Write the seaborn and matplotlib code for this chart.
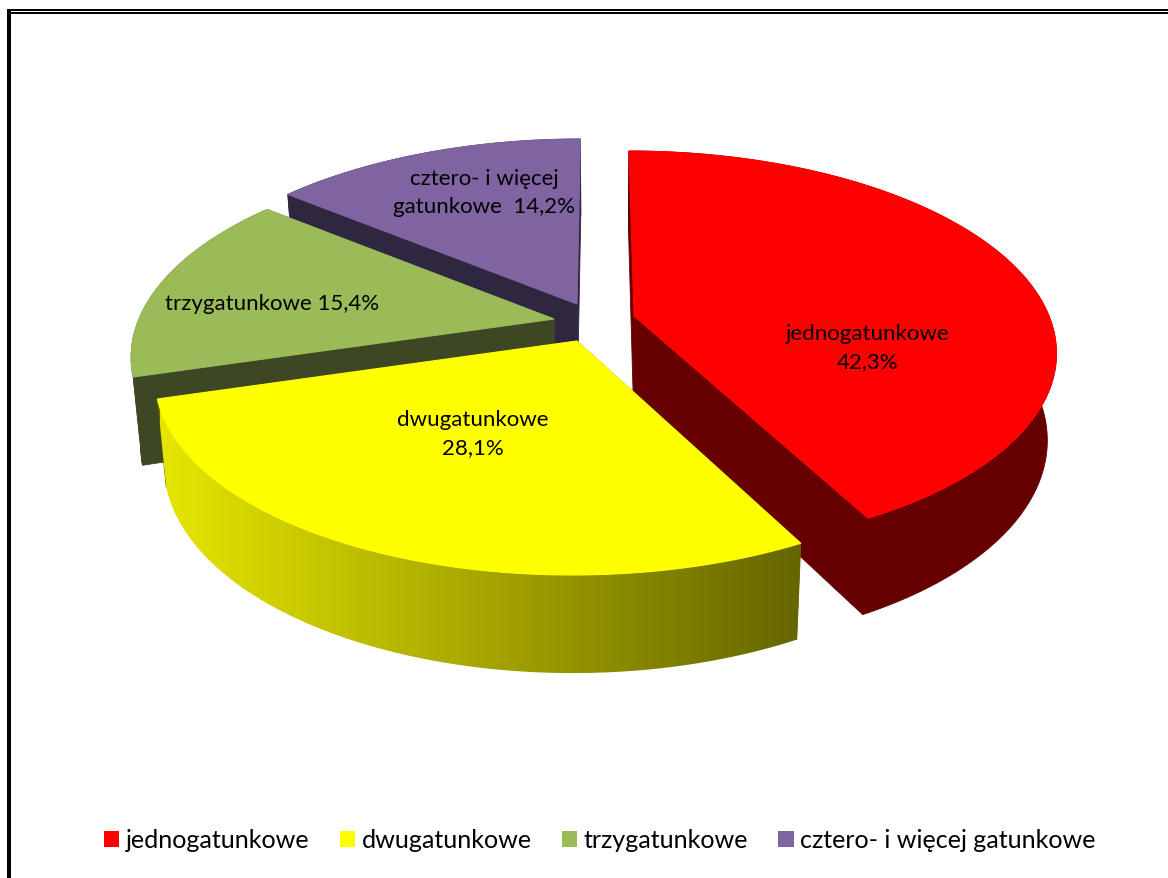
import numpy as np
import matplotlib
matplotlib.use("Agg")
import matplotlib.pyplot as plt
from matplotlib.patches import Patch, Rectangle, Polygon
from matplotlib.colors import LinearSegmentedColormap
import seaborn as sns

categories = ["jednogatunkowe", "dwugatunkowe", "trzygatunkowe", "cztero- i więcej gatunkowe"]
shares = [42.3, 28.1, 15.4, 14.2]
slice_labels = ["jednogatunkowe\n42,3%", "dwugatunkowe\n28,1%", "trzygatunkowe 15,4%", "cztero- i więcej\ngatunkowe  14,2%"]
top_colors = ["#ff0000", "#ffff00", "#9bbb59", "#8064a2"]
wall_colors = ["#660000", "#666600", "#3e4723", "#2f2640"]

sns.set_theme(style="white")
plt.rcParams["font.family"] = ["Lato", "DejaVu Sans"]

# view geometry (px on a 1168x879 canvas)
camera_x = 600.0
radius = 415.0
depth_radius = 193.5
persp = 0.173
thick = 85.0
base_scale = 0.98
apexes = {0: (634, 317), 1: (577, 342), 2: (554, 320), 3: (577, 305)}
label_pos = [(868, 348), (473, 434), (272, 304), (484, 193)]
draw_order = [3, 2, 0, 1]


def project(i, t, r=1.0, base=False):
    ax_, ay_ = apexes[i]
    s = r * np.sin(t)
    den = 1 + persp * s
    k = base_scale if base else 1.0
    x = camera_x + k * (ax_ - camera_x + radius * r * np.cos(t)) / den
    y = ay_ + (-k * depth_radius * s + (thick if base else 0)) / den
    return x, y


fig = plt.figure(figsize=(11.68, 8.79), dpi=100)
ax = fig.add_axes([0, 0, 1, 1])

edges = np.deg2rad(90 - np.cumsum([0] + shares) * 3.6)
yellow_side = LinearSegmentedColormap.from_list("side", ["#e6e600", "#666600"])

for n, i in enumerate(draw_order):
    t0, t1 = edges[i], edges[i + 1]
    ts = np.linspace(t0, t1, 240)
    top_x, top_y = project(i, ts)
    bot_x, bot_y = project(i, ts, base=True)
    apx, apy = project(i, 0.0, r=0.0)
    abx, aby = project(i, 0.0, r=0.0, base=True)
    wall = wall_colors[i]
    # radial cut walls
    for j in (0, -1):
        ax.fill([apx, top_x[j], bot_x[j], abx], [apy, top_y[j], bot_y[j], aby],
                facecolor=wall, edgecolor=wall, lw=0.6, zorder=1 + n * 3)
    # outer rim
    rim_xy = np.c_[np.r_[top_x, bot_x[::-1]], np.r_[top_y, bot_y[::-1]]]
    if i == 1:
        poly = Polygon(rim_xy, closed=True, fc="none", ec="none", transform=ax.transData)
        ax.add_patch(poly)
        im = ax.imshow(np.linspace(0, 1, 256)[None, :], cmap=yellow_side, aspect="auto",
                       extent=(160, 800, 700, 300), zorder=2 + n * 3, interpolation="bilinear")
        im.set_clip_path(poly)
    else:
        ax.fill(rim_xy[:, 0], rim_xy[:, 1], facecolor=wall, edgecolor=wall, lw=0.6,
                zorder=2 + n * 3)
    # top face
    ax.fill(np.r_[apx, top_x], np.r_[apy, top_y], facecolor=top_colors[i],
            edgecolor=top_colors[i], lw=0.8, zorder=3 + n * 3)

ax.set_xlim(0, 1168)
ax.set_ylim(879, 0)
ax.axis("off")

for (x, y), s in zip(label_pos, slice_labels):
    ax.text(x, y, s, ha="center", va="center", fontsize=16, color="black",
            linespacing=1.5, zorder=30)

# chart frame
ax.add_patch(Rectangle((7, 10), 4, 869, color="black", lw=0, zorder=40))
ax.add_patch(Rectangle((7, 10), 1161, 2.3, color="black", lw=0, zorder=40))
ax.add_patch(Rectangle((9, 13), 1159, 1.5, color="black", lw=0, zorder=40))

handles = [Patch(facecolor=c, edgecolor="none", label=n) for c, n in zip(top_colors, categories)]
ax.legend(handles=handles, ncol=4, loc="center", bbox_to_anchor=(600, 841),
          bbox_transform=ax.transData, frameon=False, fontsize=18.1,
          handlelength=0.6, handleheight=0.6, handletextpad=0.27,
          columnspacing=1.2, labelcolor="black", borderpad=0, borderaxespad=0)

fig.savefig("out.png", dpi=100)
